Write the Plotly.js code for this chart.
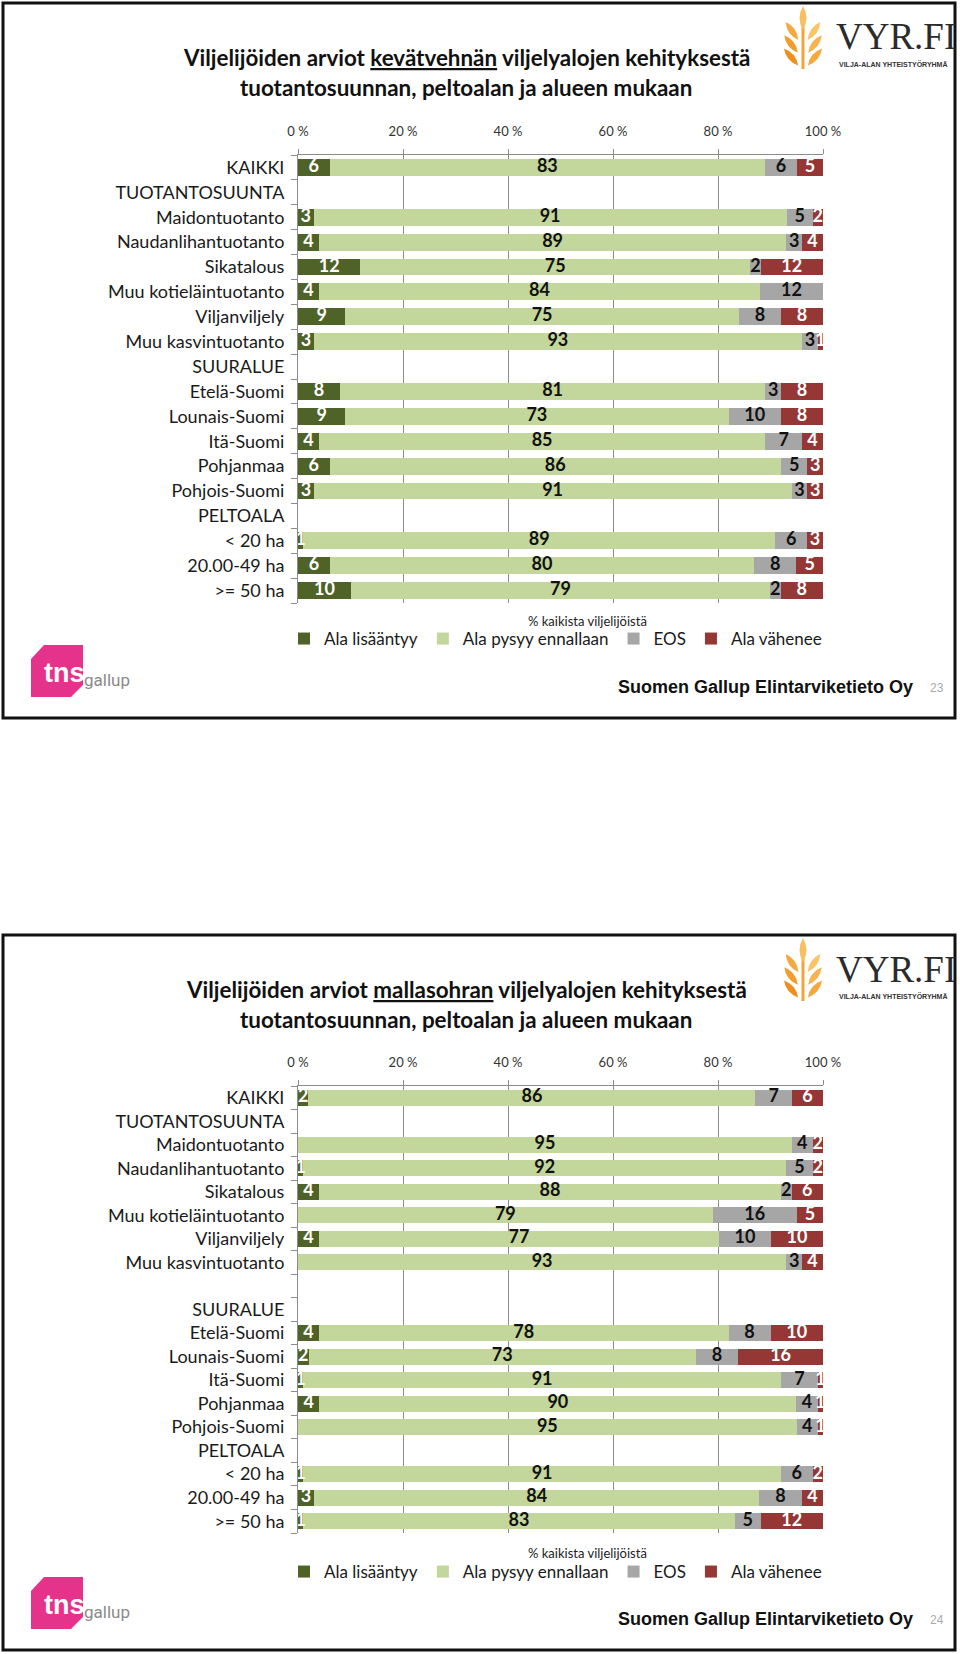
<!DOCTYPE html>
<html>
<head>
<meta charset="utf-8">
<script src="https://cdn.plot.ly/plotly-3.0.1.min.js"></script>
<style>html,body{margin:0;padding:0;background:#fff;}#chart{width:960px;height:1654px;}</style>
</head>
<body>
<div id="chart"></div>
<script>
// ---------- DATA ----------
const seriesNames = ['Ala lisääntyy', 'Ala pysyy ennallaan', 'EOS', 'Ala vähenee'];
const xTickVals = [0, 20, 40, 60, 80, 100];
const xTickText = ['0 %', '20 %', '40 %', '60 %', '80 %', '100 %'];

// Chart 1: kevätvehnä
const categories1 = ['KAIKKI', 'TUOTANTOSUUNTA', 'Maidontuotanto', 'Naudanlihantuotanto', 'Sikatalous',
  'Muu kotieläintuotanto', 'Viljanviljely', 'Muu kasvintuotanto', 'SUURALUE', 'Etelä-Suomi',
  'Lounais-Suomi', 'Itä-Suomi', 'Pohjanmaa', 'Pohjois-Suomi', 'PELTOALA', '< 20 ha', '20.00-49 ha', '>= 50 ha'];
const lisaantyy1 = [6, null, 3, 4, 12, 4, 9, 3, null, 8, 9, 4, 6, 3, null, 1, 6, 10];
const pysyy1     = [83, null, 91, 89, 75, 84, 75, 93, null, 81, 73, 85, 86, 91, null, 89, 80, 79];
const eos1       = [6, null, 5, 3, 2, 12, 8, 3, null, 3, 10, 7, 5, 3, null, 6, 8, 2];
const vahenee1   = [5, null, 2, 4, 12, null, 8, 1, null, 8, 8, 4, 3, 3, null, 3, 5, 8];

// Chart 2: mallasohra
const categories2 = ['KAIKKI', 'TUOTANTOSUUNTA', 'Maidontuotanto', 'Naudanlihantuotanto', 'Sikatalous',
  'Muu kotieläintuotanto', 'Viljanviljely', 'Muu kasvintuotanto', '', 'SUURALUE', 'Etelä-Suomi',
  'Lounais-Suomi', 'Itä-Suomi', 'Pohjanmaa', 'Pohjois-Suomi', 'PELTOALA', '< 20 ha', '20.00-49 ha', '>= 50 ha'];
const lisaantyy2 = [2, null, null, 1, 4, null, 4, null, null, null, 4, 2, 1, 4, null, null, 1, 3, 1];
const pysyy2     = [86, null, 95, 92, 88, 79, 77, 93, null, null, 78, 73, 91, 90, 95, null, 91, 84, 83];
const eos2       = [7, null, 4, 5, 2, 16, 10, 3, null, null, 8, 8, 7, 4, 4, null, 6, 8, 5];
const vahenee2   = [6, null, 2, 2, 6, 5, 10, 4, null, null, 10, 16, 1, 1, 1, null, 2, 4, 12];

// ---------- STYLE ----------
const W = 960, H = 1654;
const colors = ['#4F6228', '#C3D69B', '#A6A6A6', '#953735'];
const textColors = ['#ffffff', '#111111', '#111111', '#ffffff'];
const FONT = 'Lato, "Open Sans", sans-serif';
const gridGrey = '#8c8c8c';

const px = v => v / W;          // x pixel -> paper
const py = v => 1 - v / H;      // y pixel -> paper

function makeTraces(cats, seriesList, xa, ya, legendId) {
  const idx = cats.map((c, i) => i);
  const bars = seriesList.map((vals, k) => ({
    type: 'bar', orientation: 'h',
    name: seriesNames[k],
    x: vals, y: idx,
    xaxis: xa, yaxis: ya,
    legend: legendId,
    marker: {color: colors[k], line: {width: 0}},
    textposition: 'none',
    hoverinfo: 'name+x'
  }));
  // data labels centred in each (100 %-normalised) segment
  const totals = idx.map(i => seriesList.reduce((s, vals) => s + (vals[i] || 0), 0));
  const labels = seriesList.map((vals, k) => {
    const xs = [], ys = [], ts = [];
    idx.forEach(i => {
      const v = vals[i];
      if (v === null || v === 0) return;
      let before = 0;
      for (let j = 0; j < k; j++) before += (seriesList[j][i] || 0);
      xs.push((before + v / 2) / totals[i] * 100);
      ys.push(i);
      ts.push(String(v));
    });
    return {
      type: 'scatter', mode: 'text', x: xs, y: ys, text: ts,
      xaxis: xa, yaxis: ya, showlegend: false, hoverinfo: 'skip', cliponaxis: false,
      textposition: 'middle center',
      textfont: {family: FONT, size: 18, color: textColors[k], weight: 'bold'}
    };
  });
  return bars.concat(labels);
}

const traces = [
  ...makeTraces(categories1, [lisaantyy1, pysyy1, eos1, vahenee1], 'x', 'y', 'legend'),
  ...makeTraces(categories2, [lisaantyy2, pysyy2, eos2, vahenee2], 'x2', 'y2', 'legend2')
];

function xAxis(anchor) {
  return {
    domain: [px(298), px(823)], range: [0, 100], side: 'top', anchor: anchor,
    tickmode: 'array', tickvals: xTickVals, ticktext: xTickText,
    showgrid: true, gridcolor: gridGrey, gridwidth: 1,
    showline: true, linecolor: gridGrey, linewidth: 1,
    ticks: 'outside', ticklen: 5, tickcolor: gridGrey,
    tickfont: {family: FONT, size: 13, color: '#333'},
    ticklabelstandoff: 8,
    zeroline: false, fixedrange: true
  };
}
function yAxis(cats, top, bottom, anchor) {
  const n = cats.length;
  return {
    domain: [py(bottom), py(top)], range: [n - 0.5, -0.5], anchor: anchor,
    tickmode: 'array', tickvals: cats.map((c, i) => i), ticktext: cats,
    ticks: '', showgrid: false, zeroline: false,
    showline: true, linecolor: gridGrey, linewidth: 1,
    minor: {tickmode: 'array', tickvals: Array.from({length: n + 1}, (v, i) => i - 0.5),
            ticks: 'outside', ticklen: 6, tickcolor: gridGrey, showgrid: false},
    tickfont: {family: FONT, size: 18, color: '#1a1a1a'},
    ticklabelstandoff: 9,
    fixedrange: true
  };
}

// ---------- DECORATION (frames, logos, titles) ----------
const shapes = [];
const annotations = [];

function leafPath(cx, cy, len, wid, angDeg, off) {
  const a = angDeg * Math.PI / 180;
  const dx = Math.cos(a), dy = Math.sin(a);
  const nx = -dy, ny = dx;
  const x1 = cx - dx * len / 2, y1 = cy - dy * len / 2 + off;
  const x2 = cx + dx * len / 2, y2 = cy + dy * len / 2 + off;
  const c1x = cx + nx * wid, c1y = cy + ny * wid + off;
  const c2x = cx - nx * wid, c2y = cy - ny * wid + off;
  const P = (x, y) => px(x).toFixed(5) + ',' + py(y).toFixed(5);
  return 'M' + P(x1, y1) + ' Q' + P(c1x, c1y) + ' ' + P(x2, y2) + ' Q' + P(c2x, c2y) + ' ' + P(x1, y1) + ' Z';
}

function panel(off, pageNo, cropName) {
  // frame
  shapes.push({type: 'rect', xref: 'paper', yref: 'paper', x0: px(3), x1: px(955), y0: py(3 + off), y1: py(718 + off),
    line: {color: '#111', width: 3}, fillcolor: 'rgba(0,0,0,0)', layer: 'above'});
  // wheat logo
  shapes.push({type: 'line', xref: 'paper', yref: 'paper', x0: px(803), x1: px(803), y0: py(26 + off), y1: py(69 + off),
    line: {color: '#f2a43a', width: 3}});
  const leaves = [
    [803, 18, 24, 14, 90, '#f8bf5e'],
    [792, 31, 22, 13, 55, '#f5a83f'], [814, 31, 22, 13, 125, '#f9c46a'],
    [791, 44, 22, 13, 52, '#f29c2c'], [815, 44, 22, 13, 128, '#f6b34f'],
    [791, 57, 22, 13, 50, '#ee9020'], [815, 57, 22, 13, 130, '#f4a83e']
  ];
  leaves.forEach(l => shapes.push({type: 'path', xref: 'paper', yref: 'paper', path: leafPath(l[0], l[1], l[2], l[3] / 2, l[4], off),
    fillcolor: l[5], line: {width: 0}}));
  annotations.push({xref: 'paper', yref: 'paper', x: px(834), y: py(37 + off), xanchor: 'left', yanchor: 'middle',
    text: 'VYR.FI', showarrow: false, font: {family: '"Liberation Serif", "DejaVu Serif", serif', size: 37, color: '#2b2b2b'}});
  annotations.push({xref: 'paper', yref: 'paper', x: px(837), y: py(64 + off), xanchor: 'left', yanchor: 'middle',
    text: 'VILJA-ALAN YHTEISTYÖRYHMÄ', showarrow: false, font: {family: '"Liberation Sans", sans-serif', size: 7, color: '#333', weight: 'bold'}});
  // tns gallup logo
  const P = (x, y) => px(x).toFixed(5) + ',' + py(y + off).toFixed(5);
  shapes.push({type: 'path', xref: 'paper', yref: 'paper',
    path: 'M' + P(31, 659) + ' L' + P(44, 645) + ' L' + P(83, 645) + ' L' + P(83, 685) + ' L' + P(71, 697) + ' L' + P(31, 697) + ' Z',
    fillcolor: '#e5338c', line: {width: 0}});
  annotations.push({xref: 'paper', yref: 'paper', x: px(64), y: py(673 + off), xanchor: 'center', yanchor: 'middle',
    text: 'tns', showarrow: false, font: {family: '"Liberation Sans", sans-serif', size: 27, color: '#fff', weight: 'bold'}});
  annotations.push({xref: 'paper', yref: 'paper', x: px(82), y: py(680 + off), xanchor: 'left', yanchor: 'middle',
    text: 'gallup', showarrow: false, font: {family: 'Roboto, sans-serif', size: 17, color: '#8a8a8a'}});
  // title
  annotations.push({xref: 'paper', yref: 'paper', x: px(466), y: py(58 + off), xanchor: 'center', yanchor: 'middle',
    text: 'Viljelijöiden arviot <u>' + cropName + '</u> viljelyalojen kehityksestä', showarrow: false,
    font: {family: FONT, size: 22.4, color: '#111', weight: 'bold'}});
  annotations.push({xref: 'paper', yref: 'paper', x: px(466), y: py(88 + off), xanchor: 'center', yanchor: 'middle',
    text: 'tuotantosuunnan, peltoalan ja alueen mukaan', showarrow: false,
    font: {family: FONT, size: 22.4, color: '#111', weight: 'bold'}});
  // footer
  annotations.push({xref: 'paper', yref: 'paper', x: px(915), y: py(687 + off), xanchor: 'right', yanchor: 'middle',
    text: 'Suomen Gallup Elintarviketieto Oy', showarrow: false,
    font: {family: '"Liberation Sans", Arial, sans-serif', size: 18, color: '#111', weight: 'bold'}});
  annotations.push({xref: 'paper', yref: 'paper', x: px(937), y: py(688 + off), xanchor: 'center', yanchor: 'middle',
    text: String(pageNo), showarrow: false, font: {family: '"Liberation Sans", Arial, sans-serif', size: 12, color: '#aaa'}});
}
panel(0, 23, 'kevätvehnän');
panel(932, 24, 'mallasohran');

// axis note
annotations.push({xref: 'paper', yref: 'paper', x: px(587), y: py(621), xanchor: 'center', yanchor: 'middle',
  text: '% kaikista viljelijöistä', showarrow: false, font: {family: FONT, size: 13, color: '#222'}});
annotations.push({xref: 'paper', yref: 'paper', x: px(587), y: py(1553), xanchor: 'center', yanchor: 'middle',
  text: '% kaikista viljelijöistä', showarrow: false, font: {family: FONT, size: 13, color: '#222'}});

const legendBase = {orientation: 'h', xanchor: 'left', yanchor: 'middle', traceorder: 'normal',
  font: {family: FONT, size: 17, color: '#1a1a1a'}, bgcolor: 'rgba(0,0,0,0)', itemclick: false, itemdoubleclick: false};

const layout = {
  width: W, height: H,
  margin: {l: 0, r: 0, t: 0, b: 0},
  paper_bgcolor: '#ffffff', plot_bgcolor: 'rgba(0,0,0,0)',
  barmode: 'stack', barnorm: 'percent', bargap: 0.32,
  showlegend: true,
  font: {family: FONT},
  xaxis: xAxis('y'),
  yaxis: yAxis(categories1, 155, 603, 'x'),
  xaxis2: xAxis('y2'),
  yaxis2: yAxis(categories2, 1086, 1533, 'x2'),
  legend: Object.assign({}, legendBase, {x: px(284), y: py(639)}),
  legend2: Object.assign({}, legendBase, {x: px(284), y: py(1572)}),
  shapes: shapes,
  annotations: annotations
};

Plotly.newPlot('chart', traces, layout, {displayModeBar: false, staticPlot: true});
</script>
</body>
</html>
